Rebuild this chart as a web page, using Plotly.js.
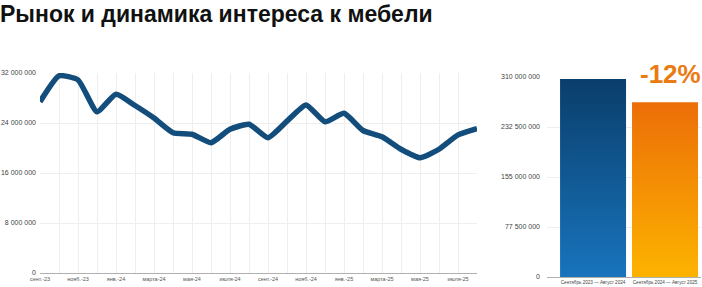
<!DOCTYPE html>
<html>
<head>
<meta charset="utf-8">
<script src="https://cdn.plot.ly/plotly-3.0.1.min.js"></script>
<style>
  html, body { margin: 0; padding: 0; background: #fff; }
  #chart { width: 702px; height: 287px; }
</style>
</head>
<body>
<div id="chart"></div>
<script>
// ---- Data ----
const months = [
  "сент.-23","окт.-23","нояб.-23","дек.-23","янв.-24","февр.-24","марта-24","апр.-24",
  "мая-24","июня-24","июля-24","авг.-24","сент.-24","окт.-24","нояб.-24","дек.-24",
  "янв.-25","февр.-25","марта-25","апр.-25","мая-25","июня-25","июля-25","авг.-25"
];
const interest = [
  27400000, 31550000, 30900000, 25800000, 28600000, 26800000, 24800000, 22450000,
  22200000, 20850000, 23000000, 23800000, 21650000, 24300000, 26900000, 24200000,
  25550000, 22800000, 21800000, 19800000, 18450000, 19800000, 22100000, 23100000
];
const lineTickVals = [0, 8000000, 16000000, 24000000, 32000000];

const periods = ["Сентябрь 2023 — Август 2024", "Сентябрь 2024 — Август 2025"];
const totals = [307000000, 271000000];
const barTickVals = [0, 77500000, 155000000, 232500000, 310000000];
const changeLabel = "-12%";
const titleText = "Рынок и динамика интереса к мебели";

// ---- Chart ----
const tickFont = { family: "Liberation Sans, Arial, sans-serif", size: 7, color: "#444" };

const traces = [
  {
    type: "scatter", mode: "lines",
    x: months, y: interest,
    line: { color: "#124d7c", width: 5.5, shape: "spline", smoothing: 0.5 },
    xaxis: "x", yaxis: "y", hoverinfo: "skip"
  },
  {
    type: "bar",
    x: periods, y: totals,
    marker: { color: ["#0f5690", "#f28a06"], line: { width: 0 } },
    xaxis: "x2", yaxis: "y2", hoverinfo: "skip"
  }
];

const layout = {
  width: 702, height: 287,
  margin: { l: 0, r: 0, t: 0, b: 0 },
  paper_bgcolor: "#ffffff", plot_bgcolor: "#ffffff",
  showlegend: false,
  separators: ", ",
  bargap: 0.083,
  font: { family: "Liberation Sans, Arial, sans-serif" },
  title: {
    text: "<b>" + titleText + "</b>",
    x: 0.0, xanchor: "left", xref: "paper",
    y: 1 - 14 / 287, yanchor: "middle", yref: "paper",
    font: { family: "Liberation Sans, Arial, sans-serif", size: 23, color: "#111" },
    pad: { l: 0, t: 0, r: 0, b: 0 }
  },
  xaxis: {
    domain: [40 / 702, 477 / 702],
    type: "category",
    range: [0, 23],
    tickvals: months,
    ticktext: months.map((m, i) => (i % 2 === 0 ? m : "")),
    tickangle: 0,
    tickfont: { family: "Liberation Sans, Arial, sans-serif", size: 5.5, color: "#555" },
    showgrid: true, gridcolor: "#eeeeee", gridwidth: 1,
    zeroline: false, showline: false, ticks: "",
    ticklabelstandoff: 1
  },
  yaxis: {
    domain: [14 / 287, 214 / 287],
    range: [0, 32000000],
    tickvals: lineTickVals,
    tickformat: ",d",
    tickfont: tickFont,
    showgrid: true, gridcolor: "#eeeeee", gridwidth: 1,
    zeroline: true, zerolinecolor: "#b0b0b0", zerolinewidth: 1,
    showline: false, ticks: "",
    ticklabelstandoff: 3
  },
  xaxis2: {
    domain: [547 / 702, 701 / 702],
    type: "category",
    range: [-0.64, 1.5],
    tickfont: { family: "Liberation Sans, Arial, sans-serif", size: 4.6, color: "#444" },
    showgrid: false, zeroline: false, showline: false, ticks: "",
    ticklabelstandoff: 1,
    anchor: "y2"
  },
  yaxis2: {
    domain: [10 / 287, 210 / 287],
    range: [0, 310000000],
    tickvals: barTickVals,
    tickformat: ",d",
    tickfont: tickFont,
    showgrid: true, gridcolor: "#eeeeee", gridwidth: 1,
    zeroline: true, zerolinecolor: "#b0b0b0", zerolinewidth: 1,
    showline: false, ticks: "",
    ticklabelstandoff: 6,
    anchor: "x2"
  },
  annotations: [
    {
      text: "<b>" + changeLabel + "</b>",
      xref: "paper", yref: "paper",
      x: 638 / 702, y: 1 - 74 / 287,
      xanchor: "left", yanchor: "middle",
      showarrow: false,
      font: { family: "Liberation Sans, Arial, sans-serif", size: 26, color: "#ea7a12" }
    }
  ]
};

Plotly.newPlot("chart", traces, layout, { staticPlot: true, displayModeBar: false }).then(function (gd) {
  // vertical gradients on the bars
  const svg = gd.querySelector(".main-svg");
  const NS = "http://www.w3.org/2000/svg";
  let defs = svg.querySelector("defs");
  if (!defs) { defs = document.createElementNS(NS, "defs"); svg.insertBefore(defs, svg.firstChild); }
  const grads = [
    { id: "gradBlue", top: "#0a3e6b", bottom: "#1874bd" },
    { id: "gradOrange", top: "#ec6e08", bottom: "#fdb300" }
  ];
  grads.forEach(function (g) {
    const lg = document.createElementNS(NS, "linearGradient");
    lg.setAttribute("id", g.id);
    lg.setAttribute("x1", "0"); lg.setAttribute("y1", "0");
    lg.setAttribute("x2", "0"); lg.setAttribute("y2", "1");
    const s1 = document.createElementNS(NS, "stop");
    s1.setAttribute("offset", "0"); s1.setAttribute("stop-color", g.top);
    const s2 = document.createElementNS(NS, "stop");
    s2.setAttribute("offset", "1"); s2.setAttribute("stop-color", g.bottom);
    lg.appendChild(s1); lg.appendChild(s2);
    defs.appendChild(lg);
  });
  const paths = gd.querySelectorAll(".barlayer .point path");
  paths.forEach(function (p, i) {
    p.style.fill = "url(#" + grads[i % grads.length].id + ")";
  });
});
</script>
</body>
</html>
